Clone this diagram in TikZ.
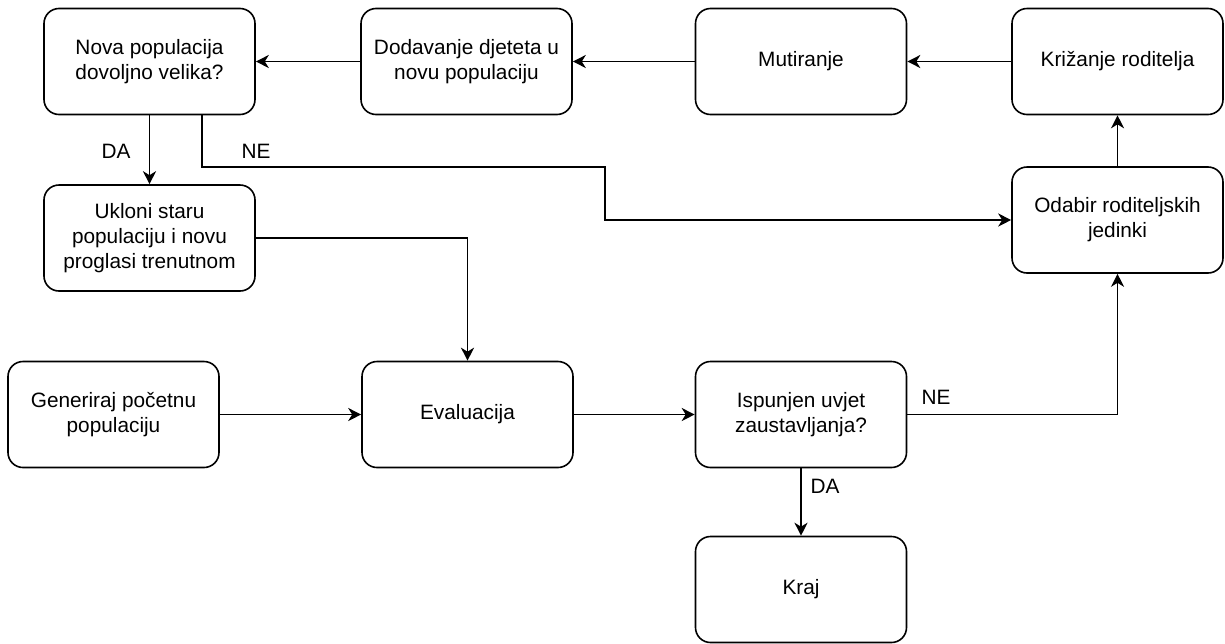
\documentclass[tikz,border=0pt]{standalone}
\usepackage{fontspec}
\setmainfont{Liberation Sans}
\usetikzlibrary{arrows.meta}
\begin{document}
\begin{tikzpicture}[x=1pt,y=-1pt,
  box/.style={draw, line width=1.6pt, rounded corners=15pt, minimum width=211pt, minimum height=106pt, align=center, font=\fontsize{20.8}{25}\selectfont, inner sep=0pt},
  conn/.style={line width=1.7pt, -{Stealth[length=13pt,width=13pt,inset=4pt]}},
  lbl/.style={font=\fontsize{20.8}{25}\selectfont, inner sep=0pt}]
\useasboundingbox (0,0) rectangle (1225,643);
\node[box] (nova) at (149.5,61.5) {Nova populacija\\dovoljno velika?};
\node[box] (dod) at (466.5,61.5) {Dodavanje djeteta u\\novu populaciju};
\node[box] (mut) at (801,61.5) {Mutiranje};
\node[box] (kriz) at (1117.5,61.5) {Križanje roditelja};
\node[box] (odab) at (1117.5,220) {Odabir roditeljskih\\jedinki};
\node[box] (ukl) at (149.5,238) {Ukloni staru\\populaciju i novu\\proglasi trenutnom};
\node[box] (gen) at (113.5,414.5) {Generiraj početnu\\populaciju};
\node[box] (eval) at (467.5,414.5) {Evaluacija};
\node[box] (isp) at (801,414.5) {Ispunjen uvjet\\zaustavljanja?};
\node[box] (kraj) at (801,589.5) {Kraj};
\coordinate (ne1) at (202,114.5);
\coordinate (ne2) at (605,167);
\draw[conn] (kriz.west) -- (mut.east);
\draw[conn] (mut.west) -- (dod.east);
\draw[conn] (dod.west) -- (nova.east);
\draw[conn] (nova.south) -- (ukl.north);
\draw[conn] (ne1) |- (ne2) |- (odab.west);
\draw[conn] (ukl.east) -| (eval.north);
\draw[conn] (gen.east) -- (eval.west);
\draw[conn] (eval.east) -- (isp.west);
\draw[conn] (isp.east) -| (odab.south);
\draw[conn] (isp.south) -- (kraj.north);
\draw[conn] (odab.north) -- (kriz.south);
\node[lbl] (da1) at (116,151) {DA};
\node[lbl] (ne1l) at (256,151) {NE};
\node[lbl] (ne2l) at (936,397) {NE};
\node[lbl] (da2) at (825,486) {DA};
\end{tikzpicture}
\end{document}
